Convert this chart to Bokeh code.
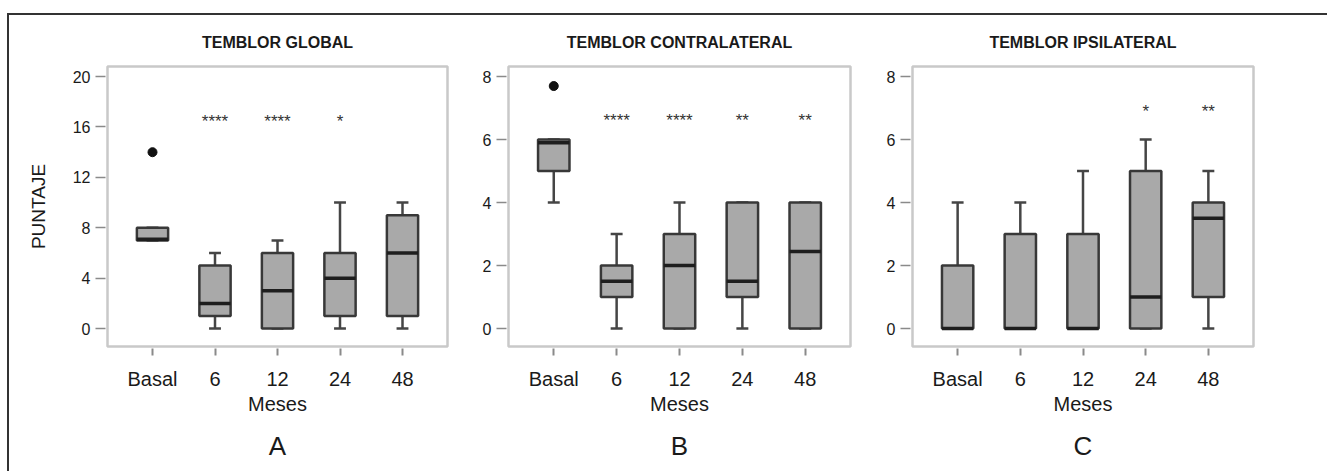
from bokeh.plotting import figure
from bokeh.layouts import row
from bokeh.models import FixedTicker, Range1d, Title, ColumnDataSource
from bokeh.core.properties import value
from bokeh.embed import file_html
from bokeh.resources import INLINE

months = ["Basal", "6", "12", "24", "48"]

# Panel A - TEMBLOR GLOBAL
a_low = [7, 0, 0, 0, 0]
a_q1 = [7, 1, 0, 1, 1]
a_med = [7.1, 2, 3, 4, 6]
a_q3 = [8, 5, 6, 6, 9]
a_high = [8, 6, 7, 10, 10]
a_out_month = ["Basal"]
a_out_val = [14]
a_stars = ["", "****", "****", "*", ""]
a_star_level = 16.7

# Panel B - TEMBLOR CONTRALATERAL
b_low = [4, 0, 0, 0, 0]
b_q1 = [5, 1, 0, 1, 0]
b_med = [5.9, 1.5, 2, 1.5, 2.45]
b_q3 = [6, 2, 3, 4, 4]
b_high = [6, 3, 4, 4, 4]
b_out_month = ["Basal"]
b_out_val = [7.7]
b_stars = ["", "****", "****", "**", "**"]
b_star_level = 6.7

# Panel C - TEMBLOR IPSILATERAL
c_low = [0, 0, 0, 0, 0]
c_q1 = [0, 0, 0, 0, 1]
c_med = [0, 0, 0, 1, 3.5]
c_q3 = [2, 3, 3, 5, 4]
c_high = [4, 4, 5, 6, 5]
c_out_month = []
c_out_val = []
c_stars = ["", "", "", "*", "**"]
c_star_level = 7.0

FONT = "Liberation Sans"
BOX_W = 0.5
CAP_W = 0.19


def make_panel(title, letter, low, q1, med, q3, high, out_m, out_v, stars,
               star_level, ymax, yticks, ylabel, width, bl, br):
    xs = list(range(len(months)))
    span = ymax
    p = figure(width=width, height=456, output_backend="svg", toolbar_location=None,
               x_range=Range1d(-0.72, 4.72),
               y_range=Range1d(-0.071 * span, 1.04 * span),
               min_border_left=bl, min_border_right=br,
               min_border_top=51, min_border_bottom=125)
    p.xgrid.visible = False
    p.ygrid.visible = False
    p.background_fill_color = "white"
    p.border_fill_color = "white"
    p.outline_line_color = "#c9c9c9"
    p.outline_line_width = 2.5

    src = ColumnDataSource(dict(x=xs, low=low, q1=q1, med=med, q3=q3, high=high,
                                l=[x - BOX_W / 2 for x in xs], r=[x + BOX_W / 2 for x in xs],
                                cl=[x - CAP_W / 2 for x in xs], cr=[x + CAP_W / 2 for x in xs],
                                stars=stars, sy=[star_level] * len(xs)))
    wc = "#454545"
    p.segment(x0="x", y0="low", x1="x", y1="q1", source=src, line_color=wc, line_width=2.5)
    p.segment(x0="x", y0="q3", x1="x", y1="high", source=src, line_color=wc, line_width=2.5)
    p.segment(x0="cl", y0="low", x1="cr", y1="low", source=src, line_color=wc, line_width=2.5)
    p.segment(x0="cl", y0="high", x1="cr", y1="high", source=src, line_color=wc, line_width=2.5)
    p.quad(left="l", right="r", bottom="q1", top="q3", source=src,
           fill_color="#a9a9a9", line_color="#383838", line_width=2.5)
    p.segment(x0="l", y0="med", x1="r", y1="med", source=src, line_color="#1e1e1e", line_width=3.5)
    if out_m:
        p.scatter(x=[months.index(m) for m in out_m], y=out_v, size=9, color="#111111")
    p.text(x="x", y="sy", text="stars", source=src, text_align="center",
           text_baseline="alphabetic", y_offset=3, text_font=value(FONT),
           text_font_size="17px", text_color="#333333")

    p.title.text = title
    p.title.align = "center"
    p.title.text_font = FONT
    p.title.text_font_size = "16px"
    p.title.text_font_style = "bold"
    p.title.text_color = "#1a1a1a"
    p.title.standoff = 31

    xa = p.xaxis[0]
    xa.ticker = FixedTicker(ticks=xs)
    xa.major_label_overrides = {i: m for i, m in enumerate(months)}
    xa.axis_line_color = None
    xa.major_tick_in = -2
    xa.major_tick_out = 9
    xa.major_tick_line_color = "#8a8a8a"
    xa.major_tick_line_width = 2
    xa.minor_tick_line_color = None
    xa.major_label_standoff = 12
    xa.major_label_text_font = FONT
    xa.major_label_text_font_size = "20px"
    xa.major_label_text_color = "#1a1a1a"
    xa.axis_label = "Meses"
    xa.axis_label_text_font = FONT
    xa.axis_label_text_font_size = "20px"
    xa.axis_label_text_font_style = "normal"
    xa.axis_label_text_color = "#1a1a1a"
    xa.axis_label_standoff = 0

    ya = p.yaxis[0]
    ya.ticker = FixedTicker(ticks=yticks)
    ya.axis_line_color = None
    ya.major_tick_in = -2
    ya.major_tick_out = 12
    ya.major_tick_line_color = "#8a8a8a"
    ya.major_tick_line_width = 1.5
    ya.minor_tick_line_color = None
    ya.major_label_standoff = 5
    ya.major_label_text_font = FONT
    ya.major_label_text_font_size = "16px"
    ya.major_label_text_color = "#1a1a1a"
    if ylabel:
        ya.axis_label = ylabel
        ya.axis_label_text_font = FONT
        ya.axis_label_text_font_size = "19px"
        ya.axis_label_text_font_style = "normal"
        ya.axis_label_text_color = "#1a1a1a"
        ya.axis_label_standoff = 21

    p.add_layout(Title(text=letter, align="center", text_font=FONT, text_font_size="26px",
                       text_font_style="normal", text_color="#1a1a1a", standoff=22), "below")
    return p


pA = make_panel("TEMBLOR GLOBAL", "A", a_low, a_q1, a_med, a_q3, a_high, a_out_month, a_out_val,
                a_stars, a_star_level, 20, [0, 4, 8, 12, 16, 20], "PUNTAJE", 455, 98, 17)
pB = make_panel("TEMBLOR CONTRALATERAL", "B", b_low, b_q1, b_med, b_q3, b_high, b_out_month, b_out_val,
                b_stars, b_star_level, 8, [0, 2, 4, 6, 8], None, 411, 44, 25)
pC = make_panel("TEMBLOR IPSILATERAL", "C", c_low, c_q1, c_med, c_q3, c_high, c_out_month, c_out_val,
                c_stars, c_star_level, 8, [0, 2, 4, 6, 8], None, 452, 37, 74)

layout = row(pA, pB, pC, spacing=0,
             styles={"margin-left": "7px", "margin-top": "13px",
                     "border-top": "2px solid #333333", "border-left": "2px solid #333333"})

open("out.html", "w").write(file_html(layout, INLINE))
